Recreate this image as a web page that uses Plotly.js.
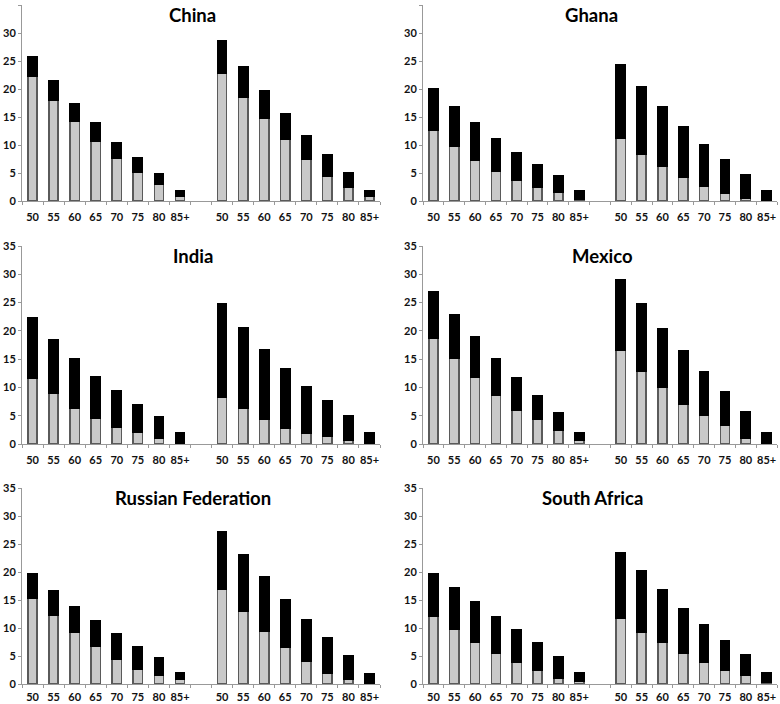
<!DOCTYPE html>
<html>
<head>
<meta charset="utf-8">
<script src="https://cdn.plot.ly/plotly-3.0.1.min.js"></script>
<style>
  html, body { margin: 0; padding: 0; background: #fff; }
  #chart { width: 780px; height: 704px; }
</style>
</head>
<body>
<div id="chart"></div>
<script>
// ---- data ----
const ages = ['50', '55', '60', '65', '70', '75', '80', '85+'];
const countries = ['China', 'Ghana', 'India', 'Mexico', 'Russian Federation', 'South Africa'];

// grey (lower) and black (upper) segments, group A (left) and group B (right)
const chinaGreyA  = [22.2, 18.0, 14.2, 10.7, 7.7, 5.1, 3.0, 0.9];
const chinaBlackA = [3.5, 3.4, 3.2, 3.2, 2.75, 2.55, 1.95, 1.0];
const chinaGreyB  = [22.9, 18.6, 14.7, 11.1, 7.5, 4.5, 2.5, 0.8];
const chinaBlackB = [5.65, 5.35, 4.9, 4.5, 4.1, 3.8, 2.6, 1.1];

const ghanaGreyA  = [12.6, 9.8, 7.2, 5.3, 3.7, 2.45, 1.5, 0.4];
const ghanaBlackA = [7.4, 7.0, 6.7, 5.9, 5.0, 4.05, 3.0, 1.5];
const ghanaGreyB  = [11.2, 8.4, 6.2, 4.3, 2.6, 1.3, 0.5, 0.1];
const ghanaBlackB = [13.2, 12.0, 10.6, 8.9, 7.4, 6.0, 4.2, 1.8];

const indiaGreyA  = [11.6, 8.9, 6.4, 4.6, 3.0, 2.1, 1.1, 0.2];
const indiaBlackA = [10.65, 9.6, 8.65, 7.3, 6.4, 4.9, 3.7, 1.8];
const indiaGreyB  = [8.3, 6.4, 4.4, 2.7, 1.9, 1.35, 0.75, 0.1];
const indiaBlackB = [16.55, 14.1, 12.2, 10.6, 8.2, 6.25, 4.25, 1.9];

const mexicoGreyA  = [18.65, 15.1, 11.8, 8.6, 6.0, 4.3, 2.4, 0.7];
const mexicoBlackA = [8.25, 7.7, 7.1, 6.55, 5.8, 4.2, 3.15, 1.3];
const mexicoGreyB  = [16.5, 12.8, 10.1, 7.1, 5.0, 3.4, 1.1, 0.1];
const mexicoBlackB = [12.6, 11.95, 10.3, 9.4, 7.8, 5.9, 4.65, 1.9];

const russiaGreyA  = [15.4, 12.26, 9.2, 6.7, 4.5, 2.7, 1.55, 0.8];
const russiaBlackA = [4.36, 4.34, 4.67, 4.55, 4.4, 4.0, 3.21, 1.2];
const russiaGreyB  = [16.9, 13.0, 9.35, 6.6, 4.0, 2.0, 0.9, 0.05];
const russiaBlackB = [10.2, 10.1, 9.75, 8.5, 7.55, 6.2, 4.1, 1.8];

const safricaGreyA  = [12.1, 9.7, 7.5, 5.5, 3.9, 2.5, 1.1, 0.5];
const safricaBlackA = [7.65, 7.5, 7.1, 6.5, 5.7, 4.8, 3.8, 1.5];
const safricaGreyB  = [11.7, 9.3, 7.5, 5.5, 3.9, 2.5, 1.55, 0.35];
const safricaBlackB = [11.8, 10.9, 9.4, 8.0, 6.75, 5.2, 3.75, 1.65];

const panels = [
  {name: countries[0], gA: chinaGreyA,   bA: chinaBlackA,   gB: chinaGreyB,   bB: chinaBlackB,   tx: 0.475},
  {name: countries[1], gA: ghanaGreyA,   bA: ghanaBlackA,   gB: ghanaGreyB,   bB: ghanaBlackB,   tx: 0.477},
  {name: countries[2], gA: indiaGreyA,   bA: indiaBlackA,   gB: indiaGreyB,   bB: indiaBlackB,   tx: 0.477},
  {name: countries[3], gA: mexicoGreyA,  bA: mexicoBlackA,  gB: mexicoGreyB,  bB: mexicoBlackB,  tx: 0.508},
  {name: countries[4], gA: russiaGreyA,  bA: russiaBlackA,  gB: russiaGreyB,  bB: russiaBlackB,  tx: 0.478},
  {name: countries[5], gA: safricaGreyA, bA: safricaBlackA, gB: safricaGreyB, bB: safricaBlackB, tx: 0.480}
];

// ---- layout geometry (pixels in a 780x704 page) ----
const W = 780, H = 704;
const colPx = [[22, 380], [423, 777]];
const rowPx = [[5, 201], [246, 444], [488, 684]];
const rowStandoff = [6, 6, 3];

const catsA = ages.map(a => 'A' + a);
const catsB = ages.map(a => 'B' + a);
const allCats = catsA.concat(['gap'], catsB);
const allText = ages.concat([''], ages);

const FONT = 'Lato, "Open Sans", "DejaVu Sans", sans-serif';
const traces = [];
const layout = {
  width: W, height: H,
  margin: {l: 0, r: 0, t: 0, b: 0},
  paper_bgcolor: '#fff', plot_bgcolor: '#fff',
  showlegend: false,
  barmode: 'stack',
  bargap: 0.56,
  font: {family: FONT, size: 11, color: '#111', weight: 'bold'},
  annotations: []
};

panels.forEach((p, i) => {
  const r = Math.floor(i / 2), c = i % 2;
  const n = i + 1;
  const xa = 'x' + (n === 1 ? '' : n), ya = 'y' + (n === 1 ? '' : n);
  const xk = 'xaxis' + (n === 1 ? '' : n), yk = 'yaxis' + (n === 1 ? '' : n);
  traces.push({
    type: 'bar', x: allCats, y: p.gA.concat([null], p.gB),
    xaxis: xa, yaxis: ya,
    marker: {color: '#c9c9c9', line: {color: '#5a5a5a', width: 1.5}},
    hoverinfo: 'skip'
  });
  traces.push({
    type: 'bar', x: allCats, y: p.bA.concat([null], p.bB),
    xaxis: xa, yaxis: ya,
    marker: {color: '#000', line: {color: '#000', width: 1.5}},
    hoverinfo: 'skip'
  });
  layout[xk] = {
    domain: [colPx[c][0] / W, colPx[c][1] / W],
    anchor: ya,
    type: 'category',
    categoryorder: 'array', categoryarray: allCats,
    range: [-0.5, 16.5],
    tickmode: 'array', tickvals: allCats, ticktext: allText,
    tickson: 'boundaries',
    tickangle: 0,
    ticks: 'outside', ticklen: 3, tickcolor: '#999', tickwidth: 1,
    ticklabelstandoff: rowStandoff[r],
    showline: true, linecolor: '#999', linewidth: 1,
    showgrid: false, zeroline: false,
    tickfont: {family: FONT, size: 11, color: '#111', weight: 'bold'},
    fixedrange: true
  };
  layout[yk] = {
    domain: [1 - rowPx[r][1] / H, 1 - rowPx[r][0] / H],
    anchor: xa,
    range: [0, 35], tickmode: 'linear', tick0: 0, dtick: 5,
    ticks: 'outside', ticklen: 3, tickcolor: '#999', tickwidth: 1,
    showline: true, linecolor: '#999', linewidth: 1,
    showgrid: false, zeroline: false,
    tickfont: {family: FONT, size: 11, color: '#111', weight: 'bold'},
    fixedrange: true
  };
  layout.annotations.push({
    xref: xa + ' domain', yref: ya + ' domain',
    x: p.tx, y: (rowPx[r][1] - (rowPx[r][0] + 10)) / (rowPx[r][1] - rowPx[r][0]),
    xanchor: 'center', yanchor: 'middle',
    text: p.name, showarrow: false,
    font: {family: FONT, size: 18.5, color: '#000', weight: 'bold'}
  });
});

Plotly.newPlot('chart', traces, layout, {displayModeBar: false, staticPlot: true});
</script>
</body>
</html>
